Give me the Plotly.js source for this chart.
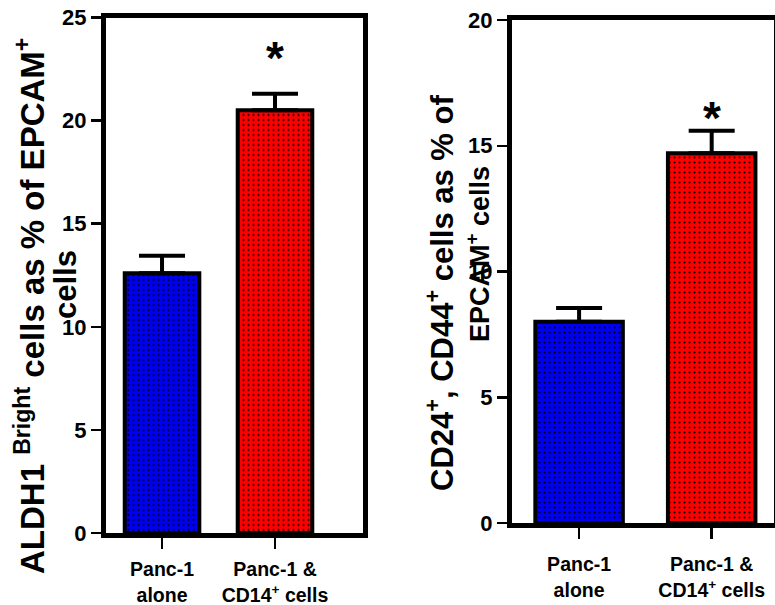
<!DOCTYPE html>
<html><head><meta charset="utf-8">
<script src="https://cdn.plot.ly/plotly-3.0.1.min.js"></script>
<style>html,body{margin:0;padding:0;background:#fff}#chart{width:775px;height:605px}</style>
</head><body><div id="chart"></div>
<script>
// ---- data ----
const categories = ["Panc-1<br>alone", "Panc-1 &<br>CD14<sup>+</sup> cells"];
const aldhValues = [12.6, 20.5];
const aldhErrors = [0.85, 0.8];
const cd24Values = [8.0, 14.7];
const cd24Errors = [0.55, 0.9];
const aldhTicks = [0, 5, 10, 15, 20, 25];
const cd24Ticks = [0, 5, 10, 15, 20];
const significance = ["", "*"];
const aldhTitleLines = ["ALDH1 <sup>Bright</sup> cells as % of EPCAM<sup>+</sup>", "cells"];
const cd24TitleLines = ["CD24<sup>+</sup>, CD44<sup>+</sup> cells as % of", "EPCAM<sup>+</sup> cells"];
const barColors = ["#0000f0", "#ff0000"];

// ---- helpers ----
const W = 775, H = 605;
const FONT = "Liberation Sans, Arial, sans-serif";
const dx = (a, b) => [a / W, b / W];
const dy = (top, bottom) => [(H - bottom) / H, (H - top) / H];
const bold = s => "<b>" + s + "</b>";

function barTraces(vals, errs, xa, ya) {
  return categories.map((c, i) => ({
    type: "bar", x: [c], y: [vals[i]], xaxis: xa, yaxis: ya, width: 0.66,
    marker: {
      color: barColors[i],
      line: {color: "#000", width: 4},
      pattern: {shape: ".", fillmode: "replace", bgcolor: barColors[i], fgcolor: "#000",
                fgopacity: 1, size: 5, solidity: 0.14}
    },
    error_y: {type: "data", symmetric: false, array: [errs[i]], arrayminus: [0],
              color: "#000", thickness: 4, width: 23},
    hoverinfo: "skip", showlegend: false
  }));
}

function xAxis(domain, range, anchor, standoff) {
  return {
    domain: domain, anchor: anchor, type: "category", range: range,
    categoryorder: "array", categoryarray: categories,
    tickvals: categories, ticktext: categories.map(bold),
    showline: true, linecolor: "#000", linewidth: 5, mirror: true,
    ticks: "outside", ticklen: 11, tickwidth: 2.5, tickcolor: "#000",
    ticklabelstandoff: standoff,
    tickfont: {family: FONT, size: 19.5, color: "#000", weight: 700},
    showgrid: false, zeroline: false, fixedrange: true
  };
}
function yAxis(domain, range, ticks, anchor) {
  return {
    domain: domain, anchor: anchor, range: range, tickvals: ticks, ticktext: ticks.map(t => bold(String(t))),
    showline: true, linecolor: "#000", linewidth: 5, mirror: true,
    ticks: "outside", ticklen: 10, tickwidth: 2.5, tickcolor: "#000",
    tickfont: {family: FONT, size: 22, color: "#000", weight: 700},
    showgrid: false, zeroline: false, fixedrange: true
  };
}

const data = [].concat(
  barTraces(aldhValues, aldhErrors, "x", "y"),
  barTraces(cd24Values, cd24Errors, "x2", "y2")
);

const annotations = [];
function addStars(vals, errs, xref, yref, pad) {
  significance.forEach((s, i) => {
    if (!s) return;
    annotations.push({x: categories[i], y: vals[i] + errs[i] + pad, xref: xref, yref: yref,
      text: bold(s), showarrow: false, font: {family: FONT, size: 46, color: "#000"}});
  });
}
addStars(aldhValues, aldhErrors, "x", "y", 1.75);
addStars(cd24Values, cd24Errors, "x2", "y2", 0.5);

function titleLine(text, xpx, ypx, size) {
  annotations.push({xref: "paper", yref: "paper", x: xpx / W, y: (H - ypx) / H,
    xanchor: "center", yanchor: "middle", text: bold(text), textangle: -90, showarrow: false,
    font: {family: FONT, size: size, color: "#000"}});
}
titleLine(aldhTitleLines[0], 30, 306, 33);
titleLine(aldhTitleLines[1], 65, 285, 31);
titleLine(cd24TitleLines[0], 440, 293, 31);
titleLine(cd24TitleLines[1], 478, 254, 27);

const layout = {
  width: W, height: H, margin: {l: 0, r: 0, t: 0, b: 0},
  paper_bgcolor: "#fff", plot_bgcolor: "#fff",
  font: {family: FONT, color: "#000"},
  barmode: "overlay",
  xaxis: xAxis(dx(106, 363), [-0.496, 1.779], "y", 4),
  yaxis: yAxis(dy(17.5, 533), [0, 25], aldhTicks, "x"),
  xaxis2: xAxis(dx(512, 774), [-0.506, 1.47], "y2", 9),
  yaxis2: yAxis(dy(20, 523), [0, 20], cd24Ticks, "x2"),
  annotations: annotations
};

Plotly.newPlot("chart", data, layout, {staticPlot: true, displayModeBar: false});
</script>
</body></html>
